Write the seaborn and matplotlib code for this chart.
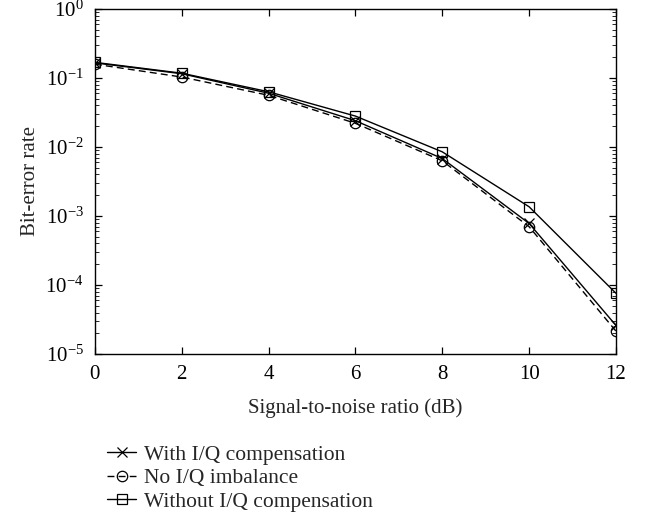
import numpy as np
import pandas as pd
import matplotlib
matplotlib.use("Agg")
import matplotlib.pyplot as plt
import matplotlib.ticker as mticker
import seaborn as sns

# Bit-error rate versus SNR for three receiver configurations
snr_db = [0, 2, 4, 6, 8, 10, 12]
ber_with_comp = [0.165, 0.115, 0.060, 0.024, 0.0068, 0.00078, 2.6e-5]
ber_no_imbalance = [0.158, 0.103, 0.056, 0.022, 0.0063, 0.00070, 2.15e-5]
ber_without_comp = [0.168, 0.117, 0.063, 0.028, 0.0085, 0.00136, 7.6e-5]

series_names = ["With I/Q compensation", "No I/Q imbalance", "Without I/Q compensation"]
x_ticks = [0, 2, 4, 6, 8, 10, 12]

sns.set_theme(style="ticks")
plt.rcParams["font.family"] = ["Liberation Serif", "DejaVu Serif"]
plt.rcParams["mathtext.fontset"] = "custom"
plt.rcParams["mathtext.rm"] = "Liberation Serif"
plt.rcParams["mathtext.it"] = "Liberation Serif:italic"

series_values = [ber_with_comp, ber_no_imbalance, ber_without_comp]
marker_styles = ["x", "o", "s"]
line_styles = ["-", (0, (5, 3)), "-"]

fig = plt.figure(figsize=(6.45, 5.2), dpi=100)
ax = fig.add_axes([0.147, 0.319, 0.808, 0.664])

handles = []
for name, vals, mk, ls in zip(series_names, series_values, marker_styles, line_styles):
    df = pd.DataFrame({"snr": snr_db, "ber": vals})
    sns.lineplot(
        data=df, x="snr", y="ber", color="black", marker=mk, linestyle=ls,
        markerfacecolor="none", markeredgecolor="black", markeredgewidth=0.9,
        markersize=7.5, linewidth=1.0, ax=ax,
    )
    handles.append(ax.get_lines()[-1])

ax.set_yscale("log")
ax.set_ylim(1e-5, 1)
ax.set_xlim(0, 12)
ax.set_xticks(x_ticks)
ax.set_xticklabels([str(t) for t in x_ticks])
ax.yaxis.set_major_locator(mticker.LogLocator(base=10, numticks=10))
ax.yaxis.set_minor_locator(mticker.LogLocator(base=10, subs=np.arange(2, 10), numticks=10))
ax.yaxis.set_minor_formatter(mticker.NullFormatter())

for side in ["top", "right", "left", "bottom"]:
    ax.spines[side].set_visible(True)
    ax.spines[side].set_linewidth(1.0)
    ax.spines[side].set_color("black")

ax.tick_params(axis="both", which="major", direction="in", length=5, width=0.9,
               top=True, right=True, labelsize=15, colors="black", pad=8)
ax.tick_params(axis="y", which="minor", direction="in", length=3, width=0.7,
               left=True, right=True)
ax.tick_params(axis="x", which="minor", bottom=False, top=False)

ax.set_xlabel("Signal-to-noise ratio (dB)", fontsize=15, labelpad=10)
ax.set_ylabel("Bit-error rate", fontsize=15, labelpad=4)
ax.grid(False)

fig.legend(handles, series_names, loc="upper left", bbox_to_anchor=(0.166, 0.145),
           frameon=False, fontsize=15.5, handlelength=1.35, handletextpad=0.35,
           labelspacing=0.16, borderaxespad=0, borderpad=0)

fig.savefig("out.png", dpi=100)
